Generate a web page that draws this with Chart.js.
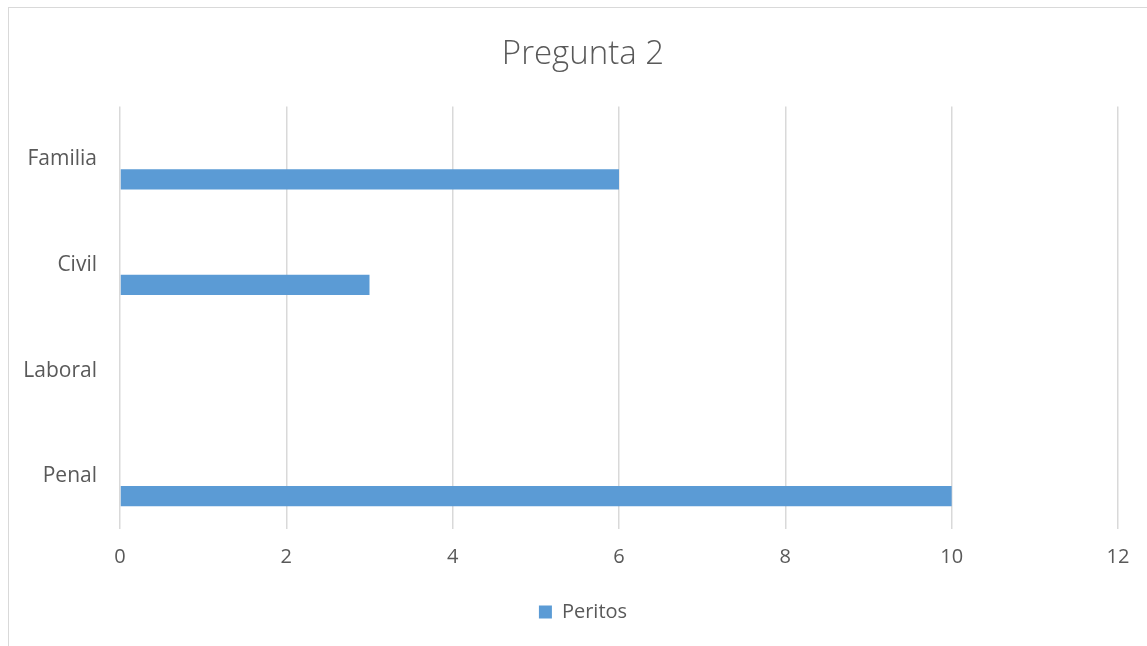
<!DOCTYPE html>
<html>
<head>
<meta charset="utf-8">
<script src="https://cdn.jsdelivr.net/npm/chart.js@4"></script>
<style>
  html, body { margin: 0; padding: 0; background: #fff; overflow: hidden; }
  .wrap { position: relative; width: 1147px; height: 646px; overflow: hidden; }
  /* the original chart frame runs past the right edge of the picture */
  .frame { position: absolute; left: 8px; top: 7px; width: 2000px; height: 2000px; border: 1px solid #d9d9d9; pointer-events: none; }
</style>
</head>
<body>
<div class="wrap">
  <canvas id="chart" width="1166" height="646"></canvas>
  <div class="frame"></div>
</div>
<script>
const categories = ['Familia', 'Civil', 'Laboral', 'Penal'];
const peritos = [6, 3, 0, 10];
// the original has an empty first series which pushes the bars below the labels
const spacer = [null, null, null, null];
const xTicks = [0, 2, 4, 6, 8, 10, 12];

const textColor = '#595959';
const font = 'Open Sans';

new Chart(document.getElementById('chart'), {
  type: 'bar',
  data: {
    labels: categories,
    datasets: [
      { label: '', data: spacer, backgroundColor: 'rgba(0,0,0,0)' },
      {
        label: 'Peritos',
        data: peritos,
        backgroundColor: '#5b9bd5',
        borderWidth: 0
      }
    ]
  },
  options: {
    indexAxis: 'y',
    responsive: false,
    animation: false,
    categoryPercentage: 0.755,
    barPercentage: 0.505,
    layout: { padding: { left: 0, right: 0, top: 0, bottom: 14 } },
    scales: {
      x: {
        min: 0,
        max: 12,
        afterBuildTicks: scale => { scale.ticks = xTicks.map(v => ({ value: v })); },
        afterFit: scale => { scale.height = 63; },
        grid: { color: '#d9d9d9', lineWidth: 1.5, drawTicks: false },
        border: { display: false },
        ticks: { color: textColor, font: { family: font, size: 20 }, padding: 16 }
      },
      y: {
        afterFit: scale => { scale.width = 120; },
        grid: { display: false, drawTicks: false },
        border: { display: false },
        ticks: { color: textColor, font: { family: font, size: 21 }, padding: 23 }
      },
      // empty right-hand axis, only reserves the space right of the plot
      yRight: {
        type: 'category',
        position: 'right',
        afterFit: scale => { scale.width = 48; },
        grid: { display: false, drawTicks: false },
        border: { display: false },
        ticks: { display: false }
      }
    },
    plugins: {
      title: {
        display: true,
        text: 'Pregunta 2',
        color: textColor,
        font: { family: font, size: 33, weight: '300' },
        padding: { top: 35, bottom: 32 }
      },
      legend: {
        position: 'bottom',
        labels: {
          color: textColor,
          font: { family: font, size: 20 },
          boxWidth: 13,
          boxHeight: 13,
          padding: 10,
          filter: item => item.datasetIndex === 1
        }
      },
      tooltip: { enabled: false }
    }
  }
});
</script>
</body>
</html>
